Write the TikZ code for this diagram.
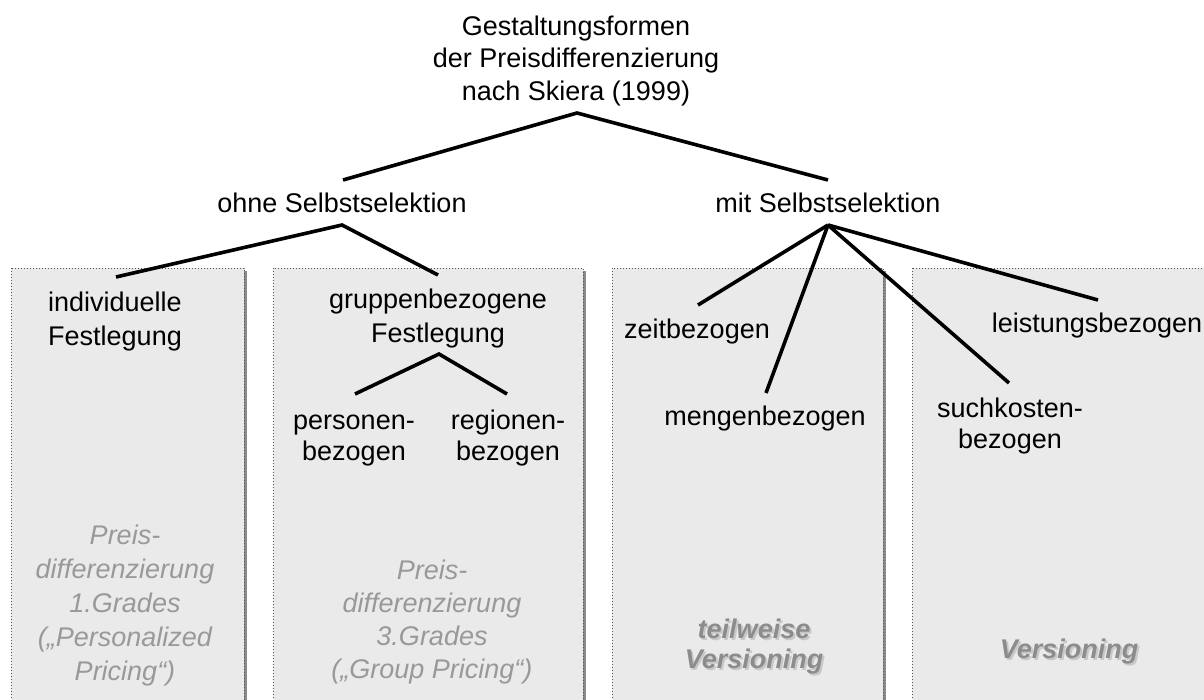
\documentclass[tikz,border=0pt]{standalone}
\usepackage{fontspec}
\setmainfont{Liberation Sans}
\definecolor{panelfill}{HTML}{EAEAEA}
\definecolor{paneldot}{HTML}{555555}
\definecolor{panelshade}{HTML}{8A8A8A}
\definecolor{notegray}{HTML}{999999}
\definecolor{tagdark}{HTML}{8C8C8C}
\definecolor{taglight}{HTML}{C8C8C8}
\begin{document}
\begin{tikzpicture}[x=1pt,y=-1pt,
  panel/.style={fill=panelfill, draw=paneldot, line width=1pt, dotted},
  shade/.style={fill=panelshade, draw=none},
  branch/.style={line width=3.6pt},
  lbl/.style={font=\fontsize{27}{34}\selectfont, align=center, anchor=base, inner sep=0pt},
  note/.style={lbl, font=\fontsize{27}{34}\selectfont\itshape, text=notegray},
  tag/.style={lbl, font=\fontsize{27}{30}\selectfont\bfseries\itshape, text=tagdark},
  tagshadow/.style={tag, text=taglight}]
\useasboundingbox (0,0) rectangle (1204,699);
\clip (0,0) rectangle (1204,699);

% four background panels with a shadow on their right side
\fill[shade] (244,271) rectangle (247,720);
\filldraw[panel] (11,268) rectangle (244,720);
\fill[shade] (583,271) rectangle (586,720);
\filldraw[panel] (273,268) rectangle (583,720);
\fill[shade] (883,271) rectangle (886,720);
\filldraw[panel] (612,268) rectangle (883,720);
\filldraw[panel] (912,268) rectangle (1220,720);

% branching points of the tree
\coordinate (tA) at (577,113);
\coordinate (tL) at (343,180);
\coordinate (tR) at (828,180);
\coordinate (oA) at (342,225);
\coordinate (oL) at (116,277);
\coordinate (oR) at (438,275);
\coordinate (mA) at (828,225);
\coordinate (mZ) at (698,305);
\coordinate (mM) at (766,393);
\coordinate (mS) at (1009,383);
\coordinate (mL) at (1098,300);
\coordinate (gA) at (439,354);
\coordinate (gL) at (355,394);
\coordinate (gR) at (507,394);

\draw[branch] (tL) -- (tA) -- (tR);
\draw[branch] (oL) -- (oA) -- (oR);
\draw[branch] (mZ) -- (mA);
\draw[branch] (mM) -- (mA);
\draw[branch] (mS) -- (mA);
\draw[branch] (mL) -- (mA);
\draw[branch] (gL) -- (gA) -- (gR);

% labels (base anchor = baseline of the last line)
\node[lbl, font=\fontsize{27}{32.5}\selectfont] (title) at (576,100) {Gestaltungsformen\\der Preisdifferenzierung\\nach Skiera (1999)};
\node[lbl] (ohne) at (342,212) {ohne Selbstselektion};
\node[lbl] (mit) at (828,212) {mit Selbstselektion};
\node[lbl] (indiv) at (115,345) {individuelle\\Festlegung};
\node[lbl] (gruppe) at (438,342) {gruppenbezogene\\Festlegung};
\node[lbl, font=\fontsize{27}{31}\selectfont] (person) at (354,460) {personen-\\bezogen};
\node[lbl, font=\fontsize{27}{31}\selectfont] (region) at (508,460) {regionen-\\bezogen};
\node[lbl] (zeit) at (697,338) {zeitbezogen};
\node[lbl] (menge) at (765,425) {mengenbezogen};
\node[lbl, font=\fontsize{27}{31}\selectfont] (such) at (1010,448) {suchkosten-\\bezogen};
\node[lbl] (leist) at (1097,332) {leistungsbezogen};

% grey captions inside the panels
\node[note] (grad1) at (125,680) {Preis-\\differenzierung\\1.Grades\\(„Personalized\\Pricing“)};
\node[note, font=\fontsize{27}{33}\selectfont\itshape] (grad3) at (432,678) {Preis-\\differenzierung\\3.Grades\\(„Group Pricing“)};
\node[tagshadow] (teilS) at (756,670) {teilweise\\Versioning};
\node[tag] (teil) at (754,668) {teilweise\\Versioning};
\node[tagshadow] (versS) at (1071,660) {Versioning};
\node[tag] (vers) at (1069,658) {Versioning};
\end{tikzpicture}
\end{document}
